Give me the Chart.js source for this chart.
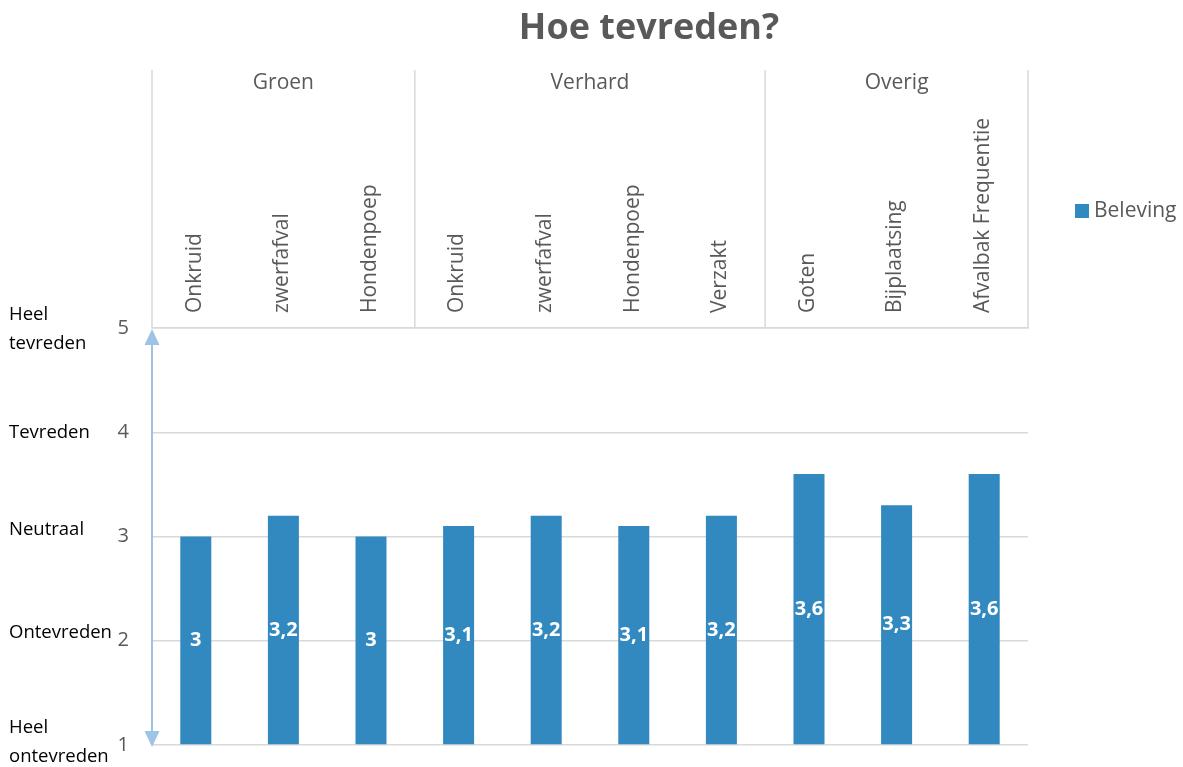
<!DOCTYPE html>
<html>
<head>
<meta charset="utf-8">
<title>Hoe tevreden?</title>
<script src="https://cdn.jsdelivr.net/npm/chart.js@4/dist/chart.umd.min.js"></script>
<style>
  html, body { margin: 0; padding: 0; background: #fff; }
  #wrap { width: 1183px; height: 767px; position: relative; }
</style>
</head>
<body>
<div id="wrap"><canvas id="chart"></canvas></div>
<script>
const TITLE = "Hoe tevreden?";
const CATEGORIES = ["Onkruid", "zwerfafval", "Hondenpoep", "Onkruid", "zwerfafval", "Hondenpoep", "Verzakt", "Goten", "Bijplaatsing", "Afvalbak Frequentie"];
const GROUP_NAMES = ["Groen", "Verhard", "Overig"];
const GROUP_SIZES = [3, 4, 3];
const SERIES_NAME = "Beleving";
const VALUES = [3, 3.2, 3, 3.1, 3.2, 3.1, 3.2, 3.6, 3.3, 3.6];
const Y_TICKS = [1, 2, 3, 4, 5];
const Y_NAMES = [["Heel", "ontevreden"], ["Ontevreden"], ["Neutraal"], ["Tevreden"], ["Heel", "tevreden"]];

const FONT = "'Open Sans', 'DejaVu Sans', sans-serif";
const GREY = "#595959";
const GRID = "#d9d9d9";
const BAR = "#3289c0";
const ARROW = "#9dc3e6";

const fmt = v => String(v).replace(".", ",");

// title, group headers, satisfaction names, arrow, legend, value labels
const decor = {
  id: "decor",
  afterDatasetsDraw(chart) {
    const ctx = chart.ctx;
    ctx.save();
    ctx.fillStyle = "#fff";
    ctx.font = `bold 20px ${FONT}`;
    ctx.textAlign = "center";
    ctx.textBaseline = "middle";
    chart.getDatasetMeta(0).data.forEach((bar, i) => {
      const p = bar.getProps(["x", "y", "base"], true);
      ctx.fillText(fmt(VALUES[i]), p.x, (p.y + p.base) / 2);
    });
    ctx.restore();
  },
  afterDraw(chart) {
    const { ctx, chartArea: a, scales: { x, y } } = chart;
    const top = chart.options.layout.padding.top;
    ctx.save();

    ctx.fillStyle = GREY;
    ctx.font = `bold 36px ${FONT}`;
    ctx.textAlign = "center";
    ctx.textBaseline = "middle";
    ctx.fillText(TITLE, 649, 29);

    // group separators + names
    ctx.strokeStyle = GRID;
    ctx.lineWidth = 1.5;
    ctx.font = `21px ${FONT}`;
    let start = 0;
    const edges = [x.getPixelForValue(-0.5)];
    GROUP_SIZES.forEach((n, g) => {
      const l = x.getPixelForValue(start - 0.5);
      const r = x.getPixelForValue(start + n - 0.5);
      edges.push(r);
      ctx.fillText(GROUP_NAMES[g], (l + r) / 2, top + 13);
      start += n;
    });
    edges.forEach(px => {
      ctx.beginPath();
      ctx.moveTo(px, top);
      ctx.lineTo(px, a.top);
      ctx.stroke();
    });

    // names next to the y ticks (small nudges, as in the original text boxes)
    const nudge = [-3, -8, -7, 0, 1];
    ctx.fillStyle = "#000";
    ctx.font = `18.5px ${FONT}`;
    ctx.textAlign = "left";
    Y_TICKS.forEach((v, i) => {
      const lines = Y_NAMES[i];
      const cy = y.getPixelForValue(v) + nudge[i];
      lines.forEach((t, k) => {
        ctx.fillText(t, 9, cy + (k - (lines.length - 1) / 2) * 29);
      });
    });

    // double arrow along the value axis
    const ax = a.left;
    ctx.strokeStyle = ARROW;
    ctx.fillStyle = ARROW;
    ctx.lineWidth = 2;
    ctx.beginPath();
    ctx.moveTo(ax, a.top + 10);
    ctx.lineTo(ax, a.bottom - 10);
    ctx.stroke();
    ctx.beginPath();
    ctx.moveTo(ax, a.top + 1);
    ctx.lineTo(ax - 7.5, a.top + 17);
    ctx.lineTo(ax + 7.5, a.top + 17);
    ctx.closePath();
    ctx.fill();
    ctx.beginPath();
    ctx.moveTo(ax, a.bottom + 2);
    ctx.lineTo(ax - 7.5, a.bottom - 14);
    ctx.lineTo(ax + 7.5, a.bottom - 14);
    ctx.closePath();
    ctx.fill();

    // legend
    ctx.fillStyle = BAR;
    ctx.fillRect(1075, 204, 14, 14);
    ctx.fillStyle = GREY;
    ctx.font = `21px ${FONT}`;
    ctx.textAlign = "left";
    ctx.fillText(SERIES_NAME, 1094, 211);

    ctx.restore();
  }
};

new Chart(document.getElementById("chart"), {
  type: "bar",
  data: {
    labels: CATEGORIES,
    datasets: [{
      label: SERIES_NAME,
      data: VALUES,
      base: Y_TICKS[0],
      backgroundColor: BAR,
      categoryPercentage: 1,
      barPercentage: 0.354
    }]
  },
  options: {
    responsive: true,
    maintainAspectRatio: false,
    animation: false,
    layout: { padding: { top: 70, left: 112, right: 155, bottom: 22 } },
    plugins: {
      legend: { display: false },
      title: { display: false },
      tooltip: { enabled: false }
    },
    scales: {
      x: {
        position: "top",
        grid: { display: false, drawTicks: false },
        border: { display: true, color: GRID, width: 1.5 },
        ticks: {
          color: GREY,
          font: { family: FONT, size: 21 },
          padding: 15,
          labelOffset: 24,
          minRotation: 90,
          maxRotation: 90,
          autoSkip: false
        },
        afterFit: s => { s.height = 258; }
      },
      y: {
        min: 1,
        max: 5,
        afterBuildTicks: s => { s.ticks = Y_TICKS.map(v => ({ value: v })); },
        ticks: { color: GREY, font: { family: FONT, size: 20 }, padding: 23 },
        grid: { color: GRID, lineWidth: 1.5, drawTicks: false },
        border: { display: false },
        afterFit: s => { s.width = 40; s.paddingTop = 0; s.paddingBottom = 0; }
      }
    }
  },
  plugins: [decor]
});
</script>
</body>
</html>
